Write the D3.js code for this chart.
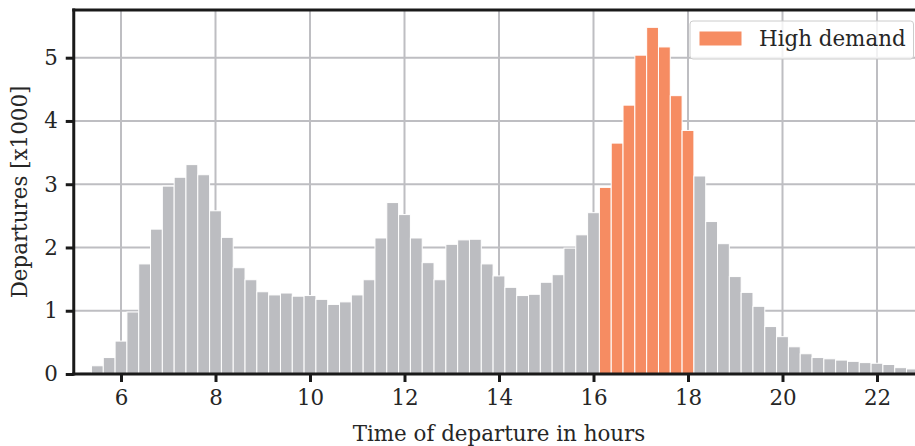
<!DOCTYPE html>
<html>
<head>
<meta charset="utf-8">
<script src="https://cdn.jsdelivr.net/npm/d3@7"></script>
<style>
  html, body { margin: 0; padding: 0; background: #fff; }
  svg { display: block; }
  text { font-family: "DejaVu Serif", serif; fill: #262626; }
</style>
</head>
<body>
<svg id="chart" width="915" height="446"></svg>
<script>
// Quarter-hour bin centres (hours) and departures per bin (thousands)
const binCenters = [
  5.25, 5.5, 5.75, 6.0, 6.25, 6.5, 6.75, 7.0, 7.25, 7.5, 7.75,
  8.0, 8.25, 8.5, 8.75, 9.0, 9.25, 9.5, 9.75, 10.0, 10.25, 10.5, 10.75,
  11.0, 11.25, 11.5, 11.75, 12.0, 12.25, 12.5, 12.75, 13.0, 13.25, 13.5, 13.75,
  14.0, 14.25, 14.5, 14.75, 15.0, 15.25, 15.5, 15.75, 16.0, 16.25, 16.5, 16.75,
  17.0, 17.25, 17.5, 17.75, 18.0, 18.25, 18.5, 18.75, 19.0, 19.25, 19.5, 19.75,
  20.0, 20.25, 20.5, 20.75, 21.0, 21.25, 21.5, 21.75, 22.0, 22.25, 22.5, 22.75
];
const departures = [
  0.03, 0.13, 0.26, 0.52, 0.98, 1.74, 2.29, 2.97, 3.11, 3.31, 3.15,
  2.58, 2.16, 1.68, 1.49, 1.30, 1.25, 1.28, 1.23, 1.24, 1.18, 1.10, 1.14,
  1.25, 1.49, 2.15, 2.71, 2.52, 2.15, 1.76, 1.49, 2.05, 2.12, 2.13, 1.74,
  1.55, 1.37, 1.24, 1.26, 1.45, 1.57, 1.99, 2.20, 2.55, 2.95, 3.65, 4.25,
  5.04, 5.48, 5.17, 4.40, 3.85, 3.13, 2.41, 2.06, 1.54, 1.29, 1.07, 0.75,
  0.59, 0.43, 0.32, 0.26, 0.24, 0.22, 0.20, 0.18, 0.17, 0.15, 0.10, 0.08
];
const binWidth = 0.25;
const highDemandWindow = [16.125, 18.125];
const xTicks = [6, 8, 10, 12, 14, 16, 18, 20, 22];
const yTicks = [0, 1, 2, 3, 4, 5];
const legendLabel = "High demand";
const xLabel = "Time of departure in hours";
const yLabel = "Departures [x1000]";

const colors = { base: "#bcbdc1", high: "#f68c62", grid: "#bebec2", spine: "#1a1a1a" };
const fontSize = 21.4;

const svg = d3.select("#chart");
const plot = { left: 73.75, right: 924.25, top: 10, bottom: 374 };

const x = d3.scaleLinear().domain([5, 23]).range([plot.left, plot.right]);
const y = d3.scaleLinear().domain([0, d3.max(departures) * 1.05]).range([plot.bottom, plot.top]);

const data = binCenters.map((c, i) => ({
  x0: c - binWidth / 2, x1: c + binWidth / 2, v: departures[i],
  high: c > highDemandWindow[0] && c < highDemandWindow[1]
}));

svg.append("defs").append("clipPath").attr("id", "plotClip")
  .append("rect").attr("x", plot.left).attr("y", plot.top)
  .attr("width", plot.right - plot.left).attr("height", plot.bottom - plot.top);

// grid
const grid = svg.append("g").attr("clip-path", "url(#plotClip)");
grid.selectAll(".gx").data(xTicks).join("line")
  .attr("x1", d => x(d)).attr("x2", d => x(d))
  .attr("y1", plot.top).attr("y2", plot.bottom)
  .attr("stroke", colors.grid).attr("stroke-width", 2);
grid.selectAll(".gy").data(yTicks).join("line")
  .attr("x1", plot.left).attr("x2", plot.right)
  .attr("y1", d => y(d)).attr("y2", d => y(d))
  .attr("stroke", colors.grid).attr("stroke-width", 2);

// bars
svg.append("g").attr("clip-path", "url(#plotClip)")
  .selectAll("rect").data(data).join("rect")
  .attr("x", d => x(d.x0)).attr("width", d => x(d.x1) - x(d.x0))
  .attr("y", d => y(d.v)).attr("height", d => y(0) - y(d.v))
  .attr("fill", d => d.high ? colors.high : colors.base)
  .attr("stroke", "#ffffff").attr("stroke-width", 1);

// x axis
const xAxis = svg.append("g").attr("transform", `translate(0,${plot.bottom})`)
  .call(d3.axisBottom(x).tickValues(xTicks).tickSize(8).tickPadding(8).tickFormat(d3.format("d")));
xAxis.select(".domain").remove();
xAxis.selectAll(".tick line").attr("stroke", colors.spine).attr("stroke-width", 3);
xAxis.selectAll(".tick text").attr("font-size", fontSize).attr("font-family", "DejaVu Serif").attr("fill", "#262626");

// y axis
const yAxis = svg.append("g").attr("transform", `translate(${plot.left},0)`)
  .call(d3.axisLeft(y).tickValues(yTicks).tickSize(8).tickPadding(8).tickFormat(d3.format("d")));
yAxis.select(".domain").remove();
yAxis.selectAll(".tick line").attr("stroke", colors.spine).attr("stroke-width", 3);
yAxis.selectAll(".tick text").attr("font-size", fontSize).attr("font-family", "DejaVu Serif").attr("fill", "#262626");

// spines
const sp = svg.append("g").attr("stroke", colors.spine).attr("stroke-width", 3).attr("stroke-linecap", "square");
sp.append("line").attr("x1", plot.left).attr("x2", plot.left).attr("y1", plot.top).attr("y2", plot.bottom);
sp.append("line").attr("x1", plot.left).attr("x2", plot.right).attr("y1", plot.bottom).attr("y2", plot.bottom);
sp.append("line").attr("x1", plot.left).attr("x2", plot.right).attr("y1", plot.top).attr("y2", plot.top);
sp.append("line").attr("x1", plot.right).attr("x2", plot.right).attr("y1", plot.top).attr("y2", plot.bottom);

// axis titles
svg.append("text").attr("x", (plot.left + plot.right) / 2).attr("y", 441)
  .attr("text-anchor", "middle").attr("font-size", fontSize).text(xLabel);
svg.append("text").attr("transform", `translate(27,${(plot.top + plot.bottom) / 2}) rotate(-90)`)
  .attr("text-anchor", "middle").attr("font-size", fontSize).text(yLabel);

// legend
const lg = svg.append("g");
lg.append("rect").attr("x", 690).attr("y", 21).attr("width", 223.5).attr("height", 38)
  .attr("rx", 3).attr("fill", "#ffffff").attr("fill-opacity", 0.8)
  .attr("stroke", "#cccccc").attr("stroke-width", 1);
lg.append("rect").attr("x", 699.5).attr("y", 31.5).attr("width", 42).attr("height", 14)
  .attr("fill", colors.high);
lg.append("text").attr("x", 759).attr("y", 46).attr("font-size", fontSize).text(legendLabel);
</script>
</body>
</html>
